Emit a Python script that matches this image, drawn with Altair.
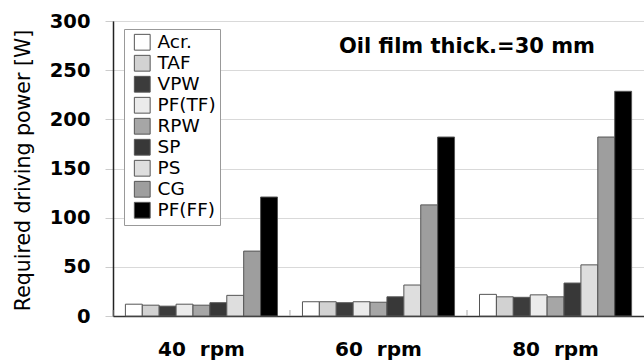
import altair as alt
import pandas as pd

rpm_labels = ["40\u00a0\u00a0rpm", "60\u00a0\u00a0rpm", "80\u00a0\u00a0rpm"]
series = ["Acr.", "TAF", "VPW", "PF(TF)", "RPW", "SP", "PS", "CG", "PF(FF)"]
colors = ["#ffffff", "#d2d2d2", "#3c3c3c", "#ebebeb", "#a6a6a6", "#383838", "#dedede", "#9e9e9e", "#000000"]

v40 = [12, 11, 10, 12, 11, 13.5, 21, 66, 121]
v60 = [14.5, 14.5, 13.5, 14.5, 14, 19.5, 31.5, 113, 182]
v80 = [22, 19.5, 19, 21.5, 19.5, 33.5, 52, 182, 228.5]

rows = []
for lab, vals in zip(rpm_labels, [v40, v60, v80]):
    for s, v in zip(series, vals):
        rows.append({"rpm": lab, "series": s, "power": v})
df = pd.DataFrame(rows)
sep_df = pd.DataFrame({"rpm": rpm_labels})
title_df = pd.DataFrame({"t": ["Oil film thick.=30 mm"]})

W, H = 531, 295
FONT = "DejaVu Sans"

xscale = alt.Scale(domain=rpm_labels, paddingInner=0.141, paddingOuter=0.07)

bars = alt.Chart(df).mark_bar(stroke="#555555", strokeWidth=1).encode(
    x=alt.X("rpm:N", scale=xscale, sort=rpm_labels,
            axis=alt.Axis(title=None, labelAngle=0, ticks=False, labelPadding=23,
                          labelFont=FONT, labelFontSize=20, labelFontWeight="bold",
                          labelColor="black", domainColor="#333333", domainWidth=1.5,
                          grid=False)),
    xOffset=alt.XOffset("series:N", sort=series, scale=alt.Scale(domain=series, paddingInner=0, paddingOuter=0)),
    y=alt.Y("power:Q", scale=alt.Scale(domain=[0, 300], nice=False),
            axis=alt.Axis(title="Required driving power [W]", values=[0, 50, 100, 150, 200, 250, 300],
                          labelFont=FONT, labelFontSize=19.5, labelFontWeight="bold", labelColor="black",
                          labelPadding=15, tickSize=8, tickColor="#cccccc",
                          gridColor="#d9d9d9", domainColor="#222222", domainWidth=1.5,
                          titleFont=FONT, titleFontSize=20.5, titleFontWeight="normal", titleColor="black",
                          titleX=-90, titleY=149, titleAngle=-90, titleAlign="center",
                          titleBaseline="middle")),
    color=alt.Color("series:N", sort=series, scale=alt.Scale(domain=series, range=colors),
                    legend=alt.Legend(title=None, orient="none", legendX=11, legendY=8,
                                      padding=4, fillColor="white", strokeColor="#999999",
                                      symbolType="square", symbolSize=250, symbolStrokeColor="#555555",
                                      symbolStrokeWidth=1, symbolOffset=5, labelOffset=6,
                                      labelFont=FONT, labelFontSize=18.5, labelColor="black",
                                      rowPadding=0)),
)

seps = alt.Chart(sep_df).mark_rule(color="#aaaaaa", strokeWidth=1, xOffset=-12.5).encode(
    x=alt.X("rpm:N", scale=xscale, sort=rpm_labels, bandPosition=0),
    y=alt.value(H - 6),
    y2=alt.value(H),
)

title = alt.Chart(title_df).mark_text(font=FONT, fontSize=21, fontWeight="bold", color="black",
                                       align="center", baseline="middle").encode(
    text="t:N", x=alt.value(354), y=alt.value(26))

chart = alt.layer(bars, seps, title).properties(
    width=W, height=H,
    autosize=alt.AutoSizeParams(type="none"),
    padding={"left": 113, "top": 21, "right": 0, "bottom": 47},
).configure_view(stroke="#333333", strokeWidth=1)

chart.save("out.html", embed_options={"renderer": "svg", "actions": False})
